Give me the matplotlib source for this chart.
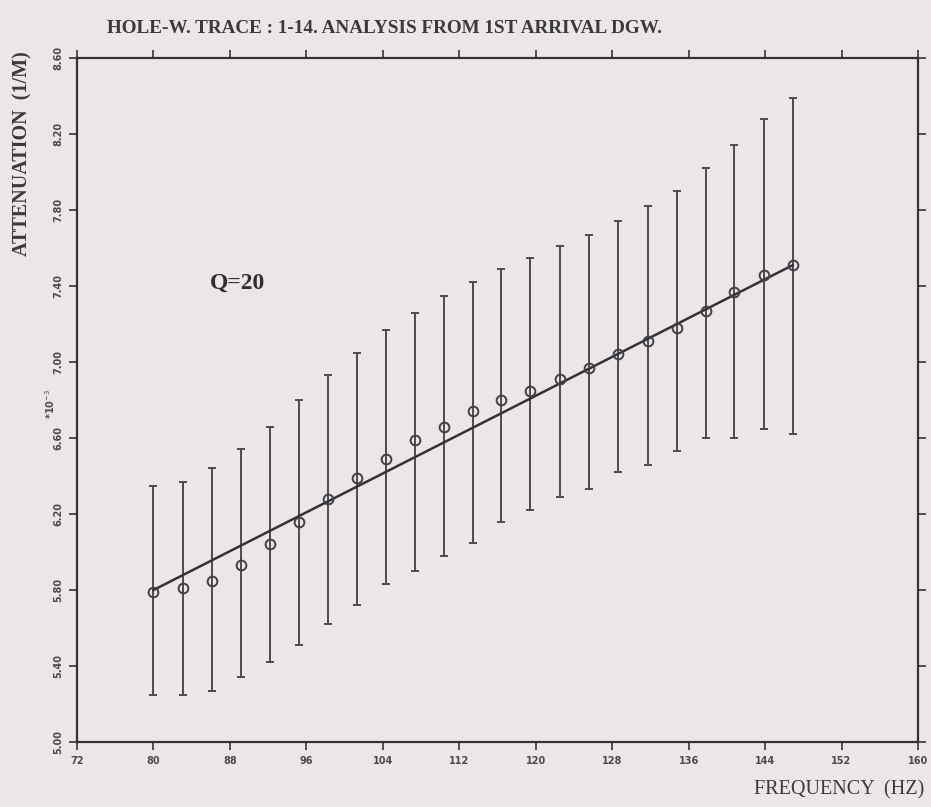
""" attenuation vs frequency, hole-W trace 1-14, with error bars and the Q=20 fit line """

import matplotlib
matplotlib.use("Agg")
import matplotlib.pyplot as plt

# frequency of each spectral estimate (Hz)
freq = [80.0, 83.1, 86.1, 89.2, 92.2, 95.2, 98.3, 101.3, 104.3, 107.4, 110.4, 113.4,
        116.4, 119.4, 122.5, 125.6, 128.6, 131.7, 134.8, 137.8, 140.8, 143.9, 146.9]
# attenuation (*10^-3 1/m)
atten = [5.79, 5.81, 5.85, 5.93, 6.04, 6.16, 6.28, 6.39, 6.49, 6.59, 6.66, 6.74,
         6.80, 6.85, 6.91, 6.97, 7.04, 7.11, 7.18, 7.27, 7.37, 7.46, 7.51]
# top and bottom of each error bar
err_top = [6.35, 6.37, 6.44, 6.54, 6.66, 6.80, 6.93, 7.05, 7.17, 7.26, 7.35, 7.42,
           7.49, 7.55, 7.61, 7.67, 7.74, 7.82, 7.90, 8.02, 8.14, 8.28, 8.39]
err_bot = [5.25, 5.25, 5.27, 5.34, 5.42, 5.51, 5.62, 5.72, 5.83, 5.90, 5.98, 6.05,
           6.16, 6.22, 6.29, 6.33, 6.42, 6.46, 6.53, 6.60, 6.60, 6.65, 6.62]
# fitted line end points
fit_freq = [80.0, 146.9]
fit_atten = [5.80, 7.51]

xticks = [72, 80, 88, 96, 104, 112, 120, 128, 136, 144, 152, 160]
yticks = [5.0, 5.4, 5.8, 6.2, 6.6, 7.0, 7.4, 7.8, 8.2, 8.6]

paper = '#ece6e8'
ink = '#333337'

fig = plt.figure(figsize=(9.31, 8.07), dpi=100, facecolor=paper)
ax = fig.add_axes([0.0827, 0.0805, 0.9033, 0.8476], facecolor=paper)

lower = [a - b for a, b in zip(atten, err_bot)]
upper = [t - a for a, t in zip(atten, err_top)]
ax.errorbar(freq, atten, yerr=[lower, upper], fmt='none', ecolor='#4a4a50',
            elinewidth=1.4, capsize=3, capthick=1.4)
ax.plot(fit_freq, fit_atten, color=ink, linewidth=1.8)
ax.plot(freq, atten, 'o', markersize=7, markerfacecolor='none',
        markeredgecolor='#404046', markeredgewidth=1.4)

ax.set_xlim(72, 160)
ax.set_ylim(5.0, 8.6)
ax.set_xticks(xticks)
ax.set_yticks(yticks)
ax.set_xticklabels([str(x) for x in xticks], fontsize=7, fontweight='bold', color='#4a4a50')
ax.set_yticklabels(['%.2f' % y for y in yticks], fontsize=7, fontweight='bold',
                   color='#4a4a50', rotation=90, va='center')
ax.tick_params(direction='out', length=6, width=1.2, color=ink, pad=4,
               top=True, right=True, labeltop=False, labelright=False)
for side in ax.spines.values():
    side.set_color(ink)
    side.set_linewidth(1.6)

ax.text(0.191, 0.671, 'Q=20', transform=ax.transAxes, ha='center', va='center',
        fontsize=17, fontweight='bold', family='Liberation Serif', color='#2f2f33')

fig.text(0.413, 0.965, 'HOLE-W. TRACE : 1-14. ANALYSIS FROM 1ST ARRIVAL DGW.',
         ha='center', va='center', fontsize=13.8, fontweight='bold',
         family='Liberation Serif', color='#3a3a3e')
fig.text(0.024, 0.81, 'ATTENUATION  (1/M)', rotation=90, ha='center', va='center',
         fontsize=14.5, fontweight='bold', family='Liberation Serif', color='#3a3a3e')
fig.text(0.054, 0.50, '*10$^{-3}$', rotation=90, ha='center', va='center',
         fontsize=7, fontweight='bold', color='#4a4a50')
fig.text(0.993, 0.009, 'FREQUENCY  (HZ)', ha='right', va='bottom',
         fontsize=14.5, family='Liberation Serif', color='#3a3a3e')

fig.savefig('out.png', dpi=100, facecolor=paper)
